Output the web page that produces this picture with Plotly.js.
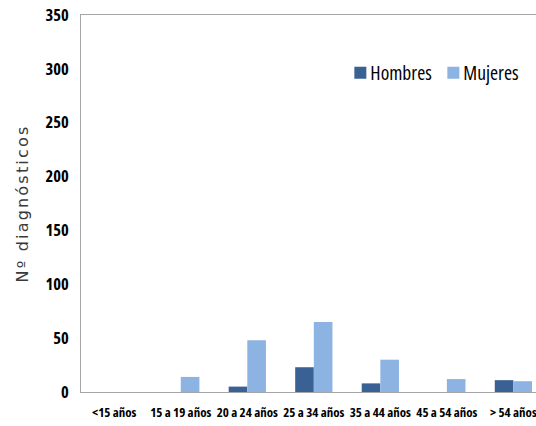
<!DOCTYPE html>
<html>
<head>
<meta charset="utf-8">
<script src="https://cdn.plot.ly/plotly-3.0.1.min.js"></script>
<style>
html,body{margin:0;padding:0;overflow:hidden;background:#fff;}
svg text { font-stretch: condensed !important; }
svg text.ytitle { font-stretch: normal !important; letter-spacing: 2.2px; }
#chart text.legendtext { transform: translateX(-10px); }
</style>
</head>
<body>
<div id="chart" style="width:536px;height:426px;"></div>
<script>
const categories = ['<15 años', '15 a 19 años', '20 a 24 años', '25 a 34 años', '35 a 44 años', '45 a 54 años', '> 54 años'];
const hombres = [0, 0, 5, 23, 8, 0, 11];
const mujeres = [0, 14, 48, 65, 30, 12, 10];
const yTicks = [0, 50, 100, 150, 200, 250, 300, 350];

const cond = 'Open Sans, sans-serif';

const data = [
  {type: 'bar', name: 'Hombres', x: categories, y: hombres,
   marker: {color: '#3A6194', line: {width: 0}}},
  {type: 'bar', name: 'Mujeres', x: categories, y: mujeres,
   marker: {color: '#8DB3E2', line: {width: 0}}}
];

const layout = {
  width: 536, height: 426,
  margin: {l: 81, r: 0, t: 15, b: 34},
  paper_bgcolor: '#fff', plot_bgcolor: '#fff',
  barmode: 'group', bargap: 0.44, bargroupgap: 0,
  showlegend: true,
  legend: {orientation: 'h', x: 0.57, xanchor: 'left', y: 0.846, yanchor: 'middle',
           entrywidth: 48,
           font: {family: cond, size: 19.5, color: '#000'}, bgcolor: 'rgba(0,0,0,0)'},
  xaxis: {
    type: 'category', range: [-0.5, 6.34], automargin: false, tickangle: 0,
    showline: true, linecolor: '#a6a6a6', linewidth: 1, mirror: true,
    showgrid: false, ticks: '', ticklabelstandoff: 8,
    tickfont: {family: cond, size: 13, color: '#000', weight: 'bold'}
  },
  yaxis: {
    range: [0, 350], tickvals: yTicks, ticktext: yTicks.map(String), automargin: false,
    showline: true, linecolor: '#a6a6a6', linewidth: 1,
    showgrid: false, zeroline: false, ticks: '', ticklabelstandoff: 8,
    tickfont: {family: cond, size: 16.5, color: '#000', weight: 'bold'},
    title: {text: 'Nº diagnósticos', standoff: 12,
            font: {family: 'DejaVu Sans, Verdana, sans-serif', size: 16, color: '#3a3a3a'}}
  }
};

Plotly.newPlot('chart', data, layout, {displayModeBar: false, staticPlot: true});
</script>
</body>
</html>
